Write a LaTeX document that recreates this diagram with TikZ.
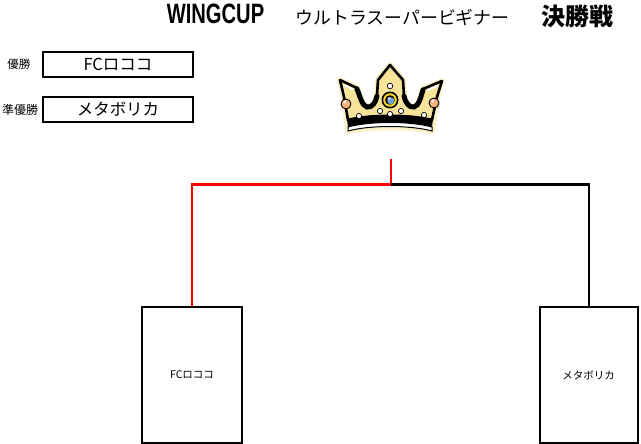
\documentclass[tikz,border=0pt]{standalone}
\usepackage{fontspec}
\setmainfont{Noto Sans CJK JP}
\newfontfamily\latinbold{Liberation Sans}
\definecolor{crownyellow}{HTML}{F8E39A}
\definecolor{halo}{HTML}{FBF0C8}
\definecolor{jewelorange}{HTML}{F6B07A}
\definecolor{jewelblue}{HTML}{6FA3DA}
\definecolor{ringyellow}{HTML}{F2D51C}
\tikzset{
  x=1pt, y=-1pt,
  teambox/.style={draw, line width=2pt, minimum width=100pt, minimum height=136pt, inner sep=0pt, font=\fontsize{10.5}{12}\selectfont},
  rankbox/.style={draw, line width=2pt, minimum width=150pt, minimum height=25pt, inner sep=0pt, font=\fontsize{16.5}{18}\selectfont},
  ranklabel/.style={inner sep=0pt, font=\fontsize{11.5}{13}\selectfont},
  winline/.style={draw=red, line width=2pt},
  loseline/.style={draw=black, line width=2pt},
  pearl/.style={fill=white, draw=black, line width=0.7pt},
}
\begin{document}
\begin{tikzpicture}
\useasboundingbox (0,0) rectangle (641,444);

% titles
\node[anchor=base, inner sep=0pt] (wing) at (215.5,24) {\latinbold\bfseries\fontsize{28}{30}\selectfont\scalebox{0.72}[1]{WINGCUP}};
\node[anchor=base, inner sep=0pt] (ultra) at (402.5,25) {\fontsize{17.9}{20}\selectfont ウルトラスーパービギナー};
\node[anchor=base, inner sep=0pt] (final) at (577.5,26) {\bfseries\fontsize{24}{26}\selectfont 決勝戦};

% ranking
\node[ranklabel] (l1) at (19,64.3) {優勝};
\node[rankbox] (r1) at (118,64.3) {FCロココ};
\node[ranklabel, font=\fontsize{12}{14}\selectfont] (l2) at (20,109.5) {準優勝};
\node[rankbox] (r2) at (118,109.5) {メタボリカ};

% crown
\begin{scope}
\path[draw=halo, line width=6pt, line join=round]
  (340,80) -- (357,88)
  .. controls (360,96) and (362,106) .. (367,107)
  .. controls (372,108) and (376,102) .. (377,96)
  -- (378,80) -- (390,65) -- (403,80) -- (404,96)
  .. controls (405,102) and (409,108) .. (414,107)
  .. controls (419,106) and (421,96) .. (423,89)
  -- (442,81) -- (437,97) -- (432,131)
  .. controls (410,126) and (370,126) .. (348,131)
  -- (344,97) -- cycle;
\path[fill=crownyellow, draw=black, line width=2.6pt, line join=round]
  (340,80) -- (357,88)
  .. controls (360,96) and (362,106) .. (367,107)
  .. controls (372,108) and (376,102) .. (377,96)
  -- (378,80) -- (390,65) -- (403,80) -- (404,96)
  .. controls (405,102) and (409,108) .. (414,107)
  .. controls (419,106) and (421,96) .. (423,89)
  -- (442,81) -- (437,97) -- (432,120)
  .. controls (410,115) and (370,115) .. (348,120)
  -- (344,97) -- cycle;
% thick inner U strokes
\draw[line width=5pt, line cap=round]
  (357,89) .. controls (360,96) and (362,106) .. (367,107)
  .. controls (372,108) and (376,102) .. (377,96);
\draw[line width=5pt, line cap=round]
  (404,96) .. controls (405,102) and (409,108) .. (414,107)
  .. controls (419,106) and (421,96) .. (423,90);
% white inner strip of the side arms
\draw[white, line width=1.8pt, line cap=round] (345,85.5) -- (353,89.5);
\draw[white, line width=1.8pt, line cap=round] (437,86) -- (428,90);
% band
\fill[black] (347,119) .. controls (370,113) and (410,113) .. (433,119)
  -- (432,127) .. controls (410,121) and (370,121) .. (348,127) -- cycle;
\draw[line width=1pt, fill=white] (348,127) .. controls (370,121) and (410,121) .. (432,127)
  -- (432,131) .. controls (410,125) and (370,125) .. (348,131) -- cycle;
% side jewels
\draw[fill=jewelorange, line width=0.9pt] (346,104) circle (5);
\draw[fill=jewelorange, line width=0.9pt] (434,103) circle (5);
\fill[white] (344.5,102) circle (1.5);
\fill[white] (432.5,101) circle (1.5);
% centre jewel
\fill[black] (390,100) circle (8.5);
\fill[ringyellow] (390,100) circle (6.8);
\fill[black] (390,100) circle (4.8);
\fill[jewelblue] (390.8,100.8) circle (3.6);
\fill[white] (389,98.5) circle (1.3);
% pearls
\draw[pearl] (390,86) circle (2.8);
\draw[pearl] (380,111) circle (2.6);
\draw[pearl] (390,114) circle (2.6);
\draw[pearl] (401,111) circle (2.6);
\draw[pearl] (359,116) circle (2.6);
\draw[pearl] (424,115) circle (2.6);
\end{scope}

% bracket
\node[teambox] (t1) at (192,375) {FCロココ};
\node[teambox, minimum width=98pt] (t2) at (588.5,375) {メタボリカ};
\coordinate (top) at (390.5,159);
\coordinate (j) at (390.5,184.5);
\draw[winline] (top) -- (j);
\draw[winline] (j) -- (t1.north |- j) -- (t1.north);
\draw[loseline] (j) -- (t2.north |- j) -- (t2.north);
\end{tikzpicture}
\end{document}
